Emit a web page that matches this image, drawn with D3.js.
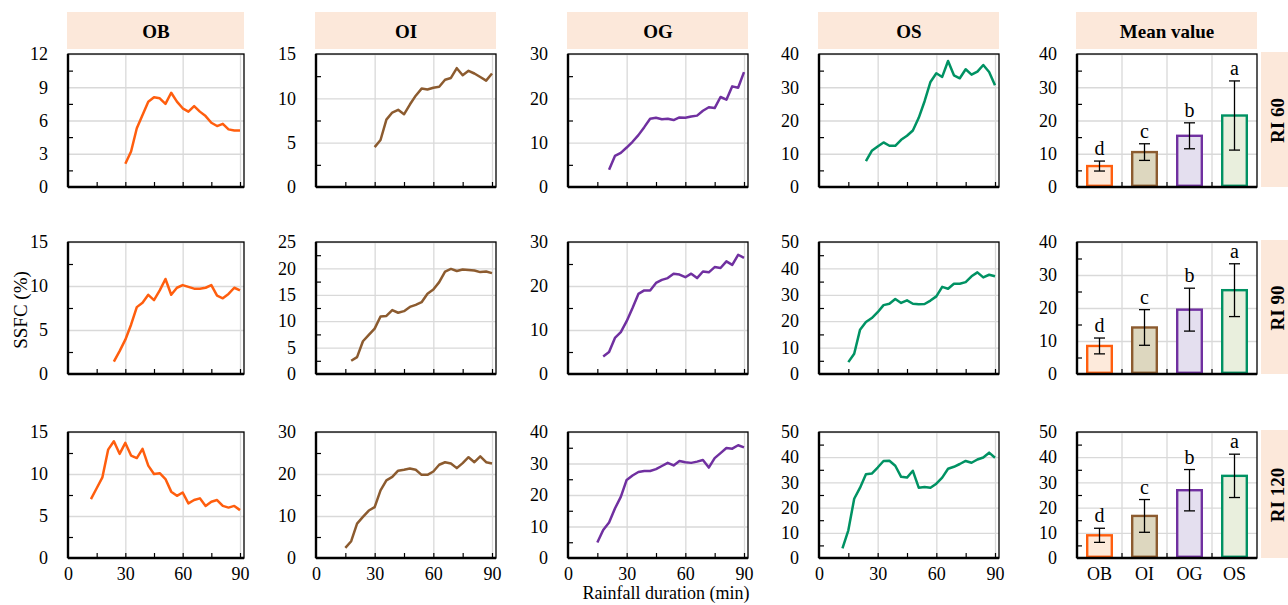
<!DOCTYPE html>
<html>
<head>
<meta charset="utf-8">
<script src="https://d3js.org/d3.v7.min.js"></script>
<style>
  body { margin: 0; background: #fff; }
  svg text { font-family: "Liberation Serif", "Times New Roman", serif; fill: #000; }
  .grid line { stroke: #d9d9d9; stroke-width: 1.3; }
  .grid .domain { stroke: none; }
  .ticks line { stroke: #000; stroke-width: 1.2; }
  .ticks .domain { stroke: none; }
  .labels .domain { stroke: none; }
  .labels text { font-size: 18px; }
</style>
</head>
<body>
<svg id="chart" width="1288" height="605"></svg>
<script>

// rainfall duration (min), every 3 min
const minutes = [12,15,18,21,24,27,30,33,36,39,42,45,48,51,54,57,60,63,66,69,72,75,78,81,84,87,90];

const groups = ["OB", "OI", "OG", "OS"];
const rowNames = ["RI 60", "RI 90", "RI 120"];
const colors = ["#ff5e0e", "#8c5b2f", "#7030a0", "#009263"];
const fills = ["#fdeadb", "#ddd7bf", "#e4dfef", "#e9efdd"];

// SSFC (%) series, null = no runoff yet
const ri60_OB = [null,null,null,null,null,null,2.1,3.2,5.3,6.5,7.7,8.1,8.0,7.5,8.5,7.7,7.1,6.8,7.3,6.8,6.4,5.8,5.5,5.7,5.2,5.1,5.1];
const ri60_OI = [null,null,null,null,null,null,4.5,5.3,7.6,8.4,8.7,8.2,9.3,10.3,11.1,11.0,11.2,11.3,12.1,12.3,13.4,12.6,13.1,12.8,12.4,12.0,12.8];
const ri60_OG = [null,null,null,3.9,7.0,7.7,8.9,10.2,11.7,13.5,15.4,15.6,15.3,15.4,15.1,15.7,15.6,15.9,16.1,17.2,18.0,17.8,20.3,19.7,22.7,22.4,25.9];
const ri60_OS = [null,null,null,null,7.8,10.9,12.2,13.4,12.4,12.4,14.2,15.4,17.0,20.8,25.8,31.6,34.2,33.1,37.9,33.6,32.7,35.4,33.8,34.7,36.7,34.6,30.6];

const ri90_OB = [null,null,null,null,1.4,2.6,3.9,5.6,7.6,8.1,9.0,8.4,9.5,10.8,9.0,9.8,10.1,9.9,9.7,9.7,9.8,10.1,8.9,8.6,9.1,9.8,9.5];
const ri90_OI = [null,null,2.5,3.2,6.2,7.4,8.6,10.9,11.0,12.1,11.6,11.9,12.7,13.1,13.6,15.2,16.0,17.4,19.4,19.9,19.5,19.8,19.7,19.6,19.3,19.4,19.1];
const ri90_OG = [null,null,4.0,5.0,8.2,9.5,12.0,15.0,18.2,19.0,19.0,20.7,21.4,21.8,22.8,22.6,22.0,22.8,21.8,23.3,23.1,24.3,24.1,25.6,24.8,27.1,26.4];
const ri90_OS = [null,4.5,7.7,16.8,19.7,21.2,23.4,26.1,26.6,28.4,26.9,27.9,26.6,26.4,26.5,27.8,29.4,33.0,32.3,34.2,34.2,34.8,37.0,38.5,36.6,37.6,37.0];

const ri120_OB = [7.0,8.3,9.6,12.9,13.9,12.4,13.7,12.2,11.9,13.0,11.0,10.0,10.1,9.4,7.9,7.4,7.8,6.5,6.9,7.1,6.2,6.7,6.9,6.2,6.0,6.2,5.7];
const ri120_OI = [null,2.4,4.0,8.2,9.8,11.3,12.1,16.1,18.5,19.3,20.8,21.0,21.3,21.0,19.8,19.8,20.6,22.2,22.8,22.5,21.4,22.6,24.0,22.8,24.2,22.8,22.5];
const ri120_OG = [null,4.9,8.9,11.3,15.7,19.4,24.8,26.2,27.3,27.6,27.6,28.2,29.2,30.2,29.4,30.8,30.4,30.2,30.6,31.1,28.7,31.7,33.3,34.9,34.7,35.8,35.1];
const ri120_OS = [3.8,11.0,23.5,27.9,33.2,33.5,35.9,38.5,38.6,36.6,32.2,31.9,34.6,27.9,28.2,27.9,29.5,31.9,35.4,36.2,37.3,38.5,37.8,39.1,39.9,41.8,39.8];

// mean value +- error, significance letters
const mean60 = [6.3, 10.5, 15.4, 21.5];
const err60 = [1.5, 2.5, 3.9, 10.4];
const mean90 = [8.5, 14.1, 19.5, 25.4];
const err90 = [2.4, 5.4, 6.5, 8.0];
const mean120 = [9.0, 16.7, 26.9, 32.6];
const err120 = [2.8, 6.5, 8.2, 8.6];
const letters = ["d", "c", "b", "a"];

// y axis: [max, step] for each row / column
const yAxes = [
  [[12, 3], [15, 5], [30, 10], [40, 10], [40, 10]],
  [[15, 5], [25, 5], [30, 10], [50, 10], [40, 10]],
  [[15, 5], [30, 10], [40, 10], [50, 10], [50, 10]]
];

const series = [
  [ri60_OB, ri60_OI, ri60_OG, ri60_OS],
  [ri90_OB, ri90_OI, ri90_OG, ri90_OS],
  [ri120_OB, ri120_OI, ri120_OG, ri120_OS]
];
const means = [mean60, mean90, mean120];
const errs = [err60, err90, err120];

const svg = d3.select("#chart");
const colLeft = [68, 316, 568, 819, 1077];
const colWidth = [176, 180, 180, 180, 180];
const rowTop = [54, 242, 432];
const rowHeight = [133, 132, 126];
const headerFill = "#fce8da";

// column headers
const headers = groups.concat(["Mean value"]);
headers.forEach((name, c) => {
  svg.append("rect")
    .attr("x", colLeft[c] - 1).attr("y", 12)
    .attr("width", colWidth[c] + 1).attr("height", 37)
    .attr("fill", headerFill);
  svg.append("text")
    .attr("x", colLeft[c] + colWidth[c] / 2).attr("y", 31)
    .attr("dominant-baseline", "central")
    .attr("text-anchor", "middle")
    .style("font-weight", "bold").style("font-size", "19px")
    .text(name);
});

function range(step, max) {
  return d3.range(0, max + step / 4, step);
}

function frame(g, w, h) {
  g.append("rect").attr("width", w).attr("height", h)
    .attr("fill", "none").attr("stroke", "#000").attr("stroke-width", 1.3);
  g.append("line").attr("x1", 0).attr("x2", 0).attr("y1", 0).attr("y2", h)
    .attr("stroke", "#000").attr("stroke-width", 2.4);
  g.append("line").attr("x1", 0).attr("x2", w).attr("y1", h).attr("y2", h)
    .attr("stroke", "#000").attr("stroke-width", 2.4);
}

function yAxisParts(g, y, w, max, step) {
  const major = range(step, max);
  const minor = major.slice(0, -1).map(v => v + step / 2);
  g.insert("g", ":first-child").attr("class", "grid")
    .call(d3.axisLeft(y).tickValues(major.slice(1)).tickSize(-w).tickFormat(""));
  g.append("g").attr("class", "ticks")
    .call(d3.axisLeft(y).tickValues(minor).tickSize(-5).tickFormat(""));
  g.append("g").attr("class", "labels")
    .call(d3.axisLeft(y).tickValues(major).tickSize(0).tickPadding(20))
    .call(a => a.selectAll("text").attr("font-family", null));
}

for (let r = 0; r < 3; r++) {
  const h = rowHeight[r];

  // line panels
  for (let c = 0; c < 4; c++) {
    const w = colWidth[c];
    const [max, step] = yAxes[r][c];
    const g = svg.append("g").attr("transform", `translate(${colLeft[c]},${rowTop[r]})`);
    const x = d3.scaleLinear().domain([0, 90]).range([0, w - 4]);
    const y = d3.scaleLinear().domain([0, max]).range([h, 0]);

    g.append("g").attr("class", "grid")
      .attr("transform", `translate(0,${h})`)
      .call(d3.axisBottom(x).tickValues([30, 60, 90]).tickSize(-h).tickFormat(""));
    yAxisParts(g, y, w, max, step);

    g.append("g").attr("class", "ticks")
      .attr("transform", `translate(0,${h})`)
      .call(d3.axisBottom(x).tickValues([15, 30, 45, 60, 75, 90]).tickSize(-5).tickFormat(""));

    if (r === 2) {
      g.append("g").attr("class", "labels")
        .attr("transform", `translate(0,${h})`)
        .call(d3.axisBottom(x).tickValues([0, 30, 60, 90]).tickSize(0).tickPadding(9));
    }

    const line = d3.line()
      .defined(d => d[1] !== null)
      .x(d => x(d[0]))
      .y(d => y(d[1]));
    g.append("path")
      .datum(minutes.map((m, i) => [m, series[r][c][i]]))
      .attr("fill", "none")
      .attr("stroke", colors[c])
      .attr("stroke-width", 2.5)
      .attr("stroke-linejoin", "round")
      .attr("d", line);

    frame(g, w, h);
  }

  // mean value bars
  const w = colWidth[4];
  const [max, step] = yAxes[r][4];
  const g = svg.append("g").attr("transform", `translate(${colLeft[4]},${rowTop[r]})`);
  const x = d3.scaleBand().domain(groups).range([0, w]).paddingInner(0.4).paddingOuter(0.2);
  const y = d3.scaleLinear().domain([0, max]).range([h, 0]);
  const bounds = [1, 2, 3].map(i => i * x.step());

  g.append("g").attr("class", "grid")
    .selectAll("line").data(bounds).join("line")
    .attr("x1", d => d).attr("x2", d => d).attr("y1", 0).attr("y2", h);
  yAxisParts(g, y, w, max, step);
  g.append("g").attr("class", "ticks")
    .selectAll("line").data(bounds).join("line")
    .attr("x1", d => d).attr("x2", d => d).attr("y1", h).attr("y2", h - 5);

  const bars = groups.map((k, i) => ({ k, i, m: means[r][i], e: errs[r][i] }));
  g.selectAll("rect.bar").data(bars).join("rect")
    .attr("class", "bar")
    .attr("x", d => x(d.k) + 1.2)
    .attr("width", x.bandwidth() - 2.4)
    .attr("y", d => y(d.m))
    .attr("height", d => y(0) - y(d.m) - 1.2)
    .attr("fill", d => fills[d.i])
    .attr("stroke", d => colors[d.i])
    .attr("stroke-width", 2.4);

  const cx = d => x(d.k) + x.bandwidth() / 2;
  const eg = g.append("g").attr("stroke", "#000").attr("stroke-width", 1.3);
  eg.selectAll("line.v").data(bars).join("line").attr("class", "v")
    .attr("x1", cx).attr("x2", cx)
    .attr("y1", d => y(d.m + d.e)).attr("y2", d => y(d.m - d.e));
  eg.selectAll("line.t").data(bars).join("line").attr("class", "t")
    .attr("x1", d => cx(d) - 5.5).attr("x2", d => cx(d) + 5.5)
    .attr("y1", d => y(d.m + d.e)).attr("y2", d => y(d.m + d.e));
  eg.selectAll("line.b").data(bars).join("line").attr("class", "b")
    .attr("x1", d => cx(d) - 5.5).attr("x2", d => cx(d) + 5.5)
    .attr("y1", d => y(d.m - d.e)).attr("y2", d => y(d.m - d.e));

  g.selectAll("text.sig").data(bars).join("text").attr("class", "sig")
    .attr("x", cx)
    .attr("y", d => y(d.m + d.e) - 6)
    .attr("text-anchor", "middle")
    .style("font-size", "20px")
    .text(d => letters[d.i]);

  if (r === 2) {
    g.append("g").attr("class", "labels")
      .attr("transform", `translate(0,${h})`)
      .call(d3.axisBottom(x).tickSize(0).tickPadding(9))
      .call(a => a.selectAll("text").style("font-size", "18px"));
  }

  frame(g, w, h);

  // row label on the right
  svg.append("rect")
    .attr("x", 1261).attr("y", rowTop[r] - 2)
    .attr("width", 30).attr("height", h + 2)
    .attr("fill", headerFill);
  svg.append("text")
    .attr("transform", `translate(1284,${rowTop[r] + h / 2}) rotate(-90)`)
    .attr("text-anchor", "middle")
    .style("font-weight", "bold").style("font-size", "19px")
    .text(rowNames[r]);
}

// axis titles
svg.append("text")
  .attr("transform", "translate(27,310) rotate(-90)")
  .attr("text-anchor", "middle")
  .style("font-size", "19px")
  .text("SSFC (%)");

svg.append("text")
  .attr("x", 666).attr("y", 599)
  .attr("text-anchor", "middle")
  .style("font-size", "18px")
  .text("Rainfall duration (min)");

</script>
</body>
</html>
